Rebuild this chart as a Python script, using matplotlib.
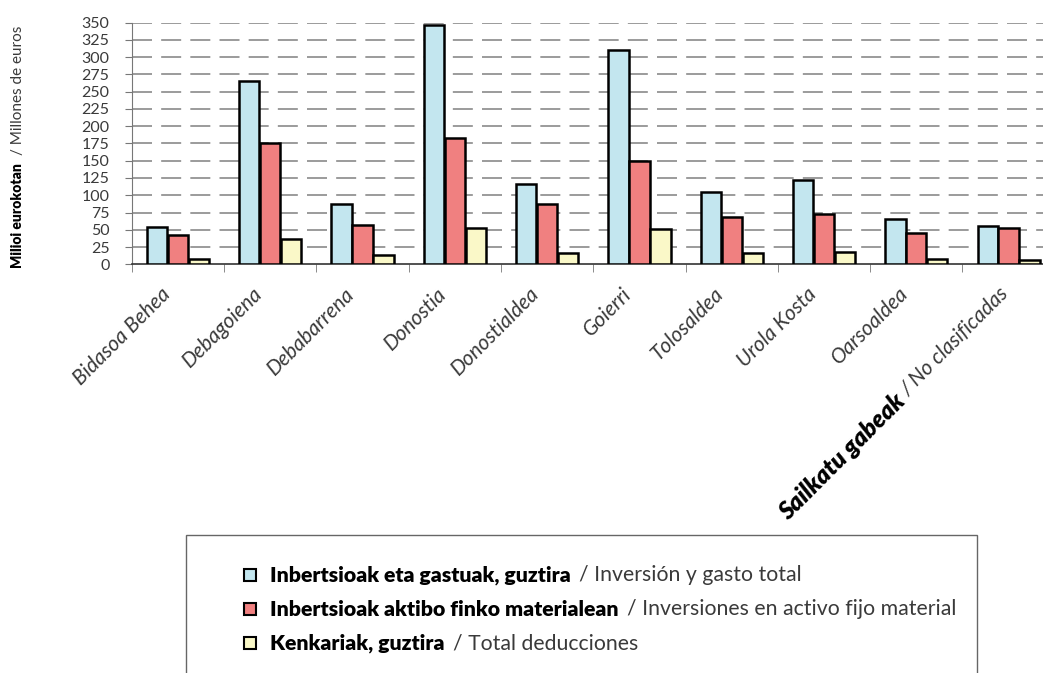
import matplotlib
matplotlib.use("Agg")
import matplotlib.pyplot as plt
import numpy as np
from matplotlib.patches import Rectangle
import matplotlib.transforms as mtransforms

# data (millions of euros)
regions = ["Bidasoa Behea", "Debagoiena", "Debabarrena", "Donostia", "Donostialdea",
           "Goierri", "Tolosaldea", "Urola Kosta", "Oarsoaldea"]
last_bold = "Sailkatu gabeak"
last_light = "/ No clasificadas"

total = [54, 266, 88, 346, 117, 311, 104, 122, 65, 55]
fixed_assets = [43, 175, 57, 183, 88, 150, 68, 73, 46, 53]
deductions = [7, 37, 13, 53, 16, 51, 16, 18, 8, 6]

series_bold = ["Inbertsioak eta gastuak, guztira",
               "Inbertsioak aktibo finko materialean",
               "Kenkariak, guztira"]
series_light = ["/ Inversión y gasto total",
                "/ Inversiones en activo fijo material",
                "/ Total deducciones"]
colors = ["#c3e6ef", "#f08080", "#faf8c8"]

yticks = list(range(0, 351, 25))

FONT = "Lato"
LIGHT = "normal"
TXT = "#3a3a3a"

fig = plt.figure(figsize=(10.43, 6.73), dpi=100)
ax = fig.add_axes([0.1263, 0.6073, 0.885, 0.359])

x = np.arange(len(total))
w = 0.22
for off, vals, c in zip([-0.227, 0, 0.227], [total, fixed_assets, deductions], colors):
    ax.bar(x + off, vals, w, color=c, edgecolor="black", linewidth=1.8, zorder=3)

ax.set_xlim(-0.5, 9.5)
ax.set_ylim(0, 350)
ax.set_yticks(yticks)
ax.set_yticklabels([str(v) for v in yticks], fontsize=11.5, family=FONT,
                   fontweight=LIGHT, color=TXT)
for v in yticks[1:]:
    ax.axhline(v, color="#8a8a8a", lw=1.2, ls=(0, (12, 5.5)), zorder=1)

for s in ["top", "right"]:
    ax.spines[s].set_visible(False)
ax.spines["left"].set_color("#777777")
ax.spines["bottom"].set_color("#333333")
ax.spines["bottom"].set_linewidth(1.2)
ax.tick_params(axis="y", length=5, color="#777777", pad=11)

XFS = 15
ax.set_xticks(x)
ax.set_xticklabels(regions + [""], rotation=45, ha="right", va="top",
                   rotation_mode="anchor", fontsize=XFS, family=FONT,
                   fontweight=LIGHT, style="italic", color=TXT)
ax.tick_params(axis="x", which="major", length=0, pad=14)
ax.set_xticks(np.arange(-0.5, 10, 1), minor=True)
ax.tick_params(axis="x", which="minor", length=6, color="#777777")
shift = mtransforms.ScaledTranslation(-18 / 100, 0, fig.dpi_scale_trans)
for lab in ax.get_xticklabels():
    lab.set_transform(lab.get_transform() + shift)

# last category label: bold + light parts along the same 45 degree line
fig.canvas.draw()
renderer = fig.canvas.get_renderer()
anchor = ax.transData.transform((9, 0))
ax0 = anchor[0] - 10
ay0 = anchor[1] - 14 * 100 / 72
t_light = fig.text(0, 0, last_light + " ", fontsize=XFS, family=FONT,
                   fontweight=LIGHT, style="italic", color=TXT)
wl = t_light.get_window_extent(renderer).width
t_light.remove()
fig.text(ax0 / fig.bbox.width, ay0 / fig.bbox.height, last_light, fontsize=XFS,
         family=FONT, fontweight=LIGHT, style="italic", color=TXT, rotation=45,
         rotation_mode="anchor", ha="right", va="top")
d = wl / np.sqrt(2)
fig.text((ax0 - d) / fig.bbox.width, (ay0 - d) / fig.bbox.height, last_bold,
         fontsize=17.5, family=FONT, fontweight="heavy", style="italic",
         color="black", rotation=45, rotation_mode="anchor", ha="right", va="top")

# y axis title, bold + light
ty = fig.text(0.017, 1 - 268 / 673, "Milioi eurokotan", rotation=90, fontsize=10,
              family=FONT, fontweight="heavy", color="black", va="bottom", ha="center")
hb = ty.get_window_extent(renderer).height
fig.text(0.017, (673 - 268 + hb + 8) / 673, "/ Millones de euros", rotation=90,
         fontsize=11, family=FONT, fontweight=LIGHT, color=TXT,
         va="bottom", ha="center")

# legend box (drawn by hand for mixed-weight labels)
fig.patches.append(Rectangle((0.178, -0.05), 0.759, 0.255, transform=fig.transFigure,
                             facecolor="white", edgecolor="#666666", lw=1))
rows_y = [1 - 575 / 673, 1 - 609 / 673, 1 - 643 / 673]
for yy, c, tb, tl in zip(rows_y, colors, series_bold, series_light):
    fig.patches.append(Rectangle((0.2335, yy - 0.009), 0.0115, 0.018,
                                 transform=fig.transFigure, facecolor=c,
                                 edgecolor="black", lw=1.5))
    tt = fig.text(0.259, yy, tb, fontsize=15.3, family=FONT, fontweight="heavy",
                  color="black", va="center")
    wb = tt.get_window_extent(renderer).width
    fig.text(0.259 + (wb + 8) / fig.bbox.width, yy, tl, fontsize=15.3, family=FONT,
             fontweight=LIGHT, color=TXT, va="center")

fig.savefig("out.png", dpi=100)
